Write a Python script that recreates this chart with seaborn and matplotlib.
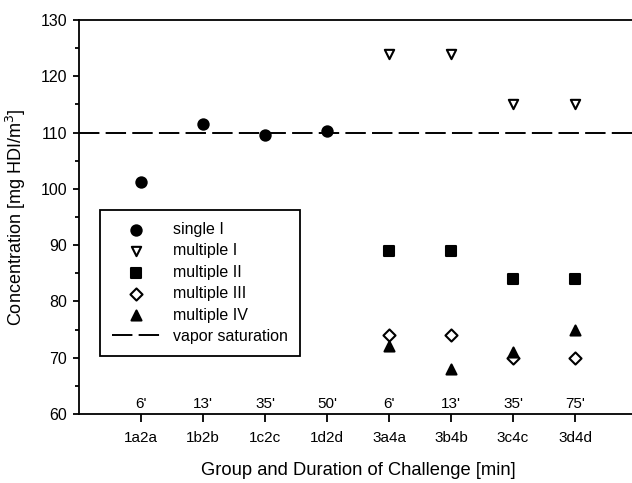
import matplotlib
matplotlib.use("Agg")
import matplotlib.pyplot as plt
import seaborn as sns
import pandas as pd
from matplotlib.ticker import MultipleLocator

# ---- data ----
groups = ["1a2a", "1b2b", "1c2c", "1d2d", "3a4a", "3b4b", "3c4c", "3d4d"]
durations = ["6'", "13'", "35'", "50'", "6'", "13'", "35'", "75'"]
single_I_groups = ["1a2a", "1b2b", "1c2c", "1d2d"]
single_I = [101.2, 111.5, 109.6, 110.2]
multi_groups = ["3a4a", "3b4b", "3c4c", "3d4d"]
multiple_I = [124, 124, 115, 115]
multiple_II = [89, 89, 84, 84]
multiple_III = [74, 74, 70, 70]
multiple_IV = [72, 68, 71, 75]
vapor_saturation = 110

sns.set_style("ticks")
plt.rcParams["font.family"] = ["Liberation Sans", "DejaVu Sans"]
plt.rcParams["axes.linewidth"] = 1.3
for k in ["text.color", "axes.labelcolor", "xtick.color", "ytick.color", "axes.edgecolor"]:
    plt.rcParams[k] = "black"

fig = plt.figure(figsize=(6.32, 4.83), dpi=100)
W, H = 632, 483
left, right, top, bottom = 79, 637, 20, 414
ax = fig.add_axes([left / W, 1 - bottom / H, (right - left) / W, (bottom - top) / H])

pos = {g: i + 1 for i, g in enumerate(groups)}

def series(gs, vals):
    return pd.DataFrame({"x": [pos[g] for g in gs], "y": vals})

ax.axhline(vapor_saturation, color="black", lw=1.4, dashes=(10.5, 3.2),
           label="vapor saturation", zorder=1)

specs = [
    ("single I", single_I_groups, single_I, "o", "black", "black", 55),
    ("multiple I", multi_groups, multiple_I, "v", "white", "black", 45),
    ("multiple II", multi_groups, multiple_II, "s", "black", "black", 50),
    ("multiple III", multi_groups, multiple_III, "D", "white", "black", 38),
    ("multiple IV", multi_groups, multiple_IV, "^", "black", "black", 52),
]
for label, gs, vals, m, fc, ec, s in specs:
    d = series(gs, vals)
    sns.scatterplot(data=d, x="x", y="y", marker=m, s=s, facecolor=fc,
                    edgecolor=ec, linewidth=1.5, label=label, ax=ax, zorder=3)

for i, t in enumerate(durations):
    ax.text(i + 1, 61.1, t, ha="center", va="baseline", fontsize=11)

ax.set_xlim(0, 9)
ax.set_ylim(60, 130)
ax.set_xticks(range(1, len(groups) + 1))
ax.set_xticklabels(groups)
ax.yaxis.set_major_locator(MultipleLocator(10))
ax.yaxis.set_minor_locator(MultipleLocator(5))
ax.tick_params(axis="x", which="major", direction="out", length=5.5, width=1.3,
               pad=7, labelsize=11)
ax.tick_params(axis="y", which="major", direction="out", length=4.5, width=1.3,
               pad=4, labelsize=11.5)
ax.tick_params(axis="y", which="minor", direction="out", length=2.8, width=1.3)
ax.spines["right"].set_visible(False)

ax.set_xlabel("Group and Duration of Challenge [min]", fontsize=13.2)
ax.set_ylabel("Concentration [mg HDI/m$^3$]", fontsize=13)
ax.xaxis.set_label_coords((358 - left) / (right - left), -0.122)
ax.yaxis.set_label_coords((28 - left) / (right - left), 0.5)

handles, labels = ax.get_legend_handles_labels()
order = ["single I", "multiple I", "multiple II", "multiple III", "multiple IV", "vapor saturation"]
hl = dict(zip(labels, handles))
leg = ax.legend([hl[k] for k in order], order, loc="lower left",
                bbox_to_anchor=((100 - left) / (right - left), (bottom - 356) / (bottom - top)),
                borderaxespad=0, fontsize=11.5, frameon=True, fancybox=False,
                edgecolor="black", framealpha=1, handlelength=3.0,
                handletextpad=0.8, labelspacing=0.4, borderpad=0.75)
leg.get_frame().set_linewidth(1.3)

fig.savefig("out.png", dpi=100)
